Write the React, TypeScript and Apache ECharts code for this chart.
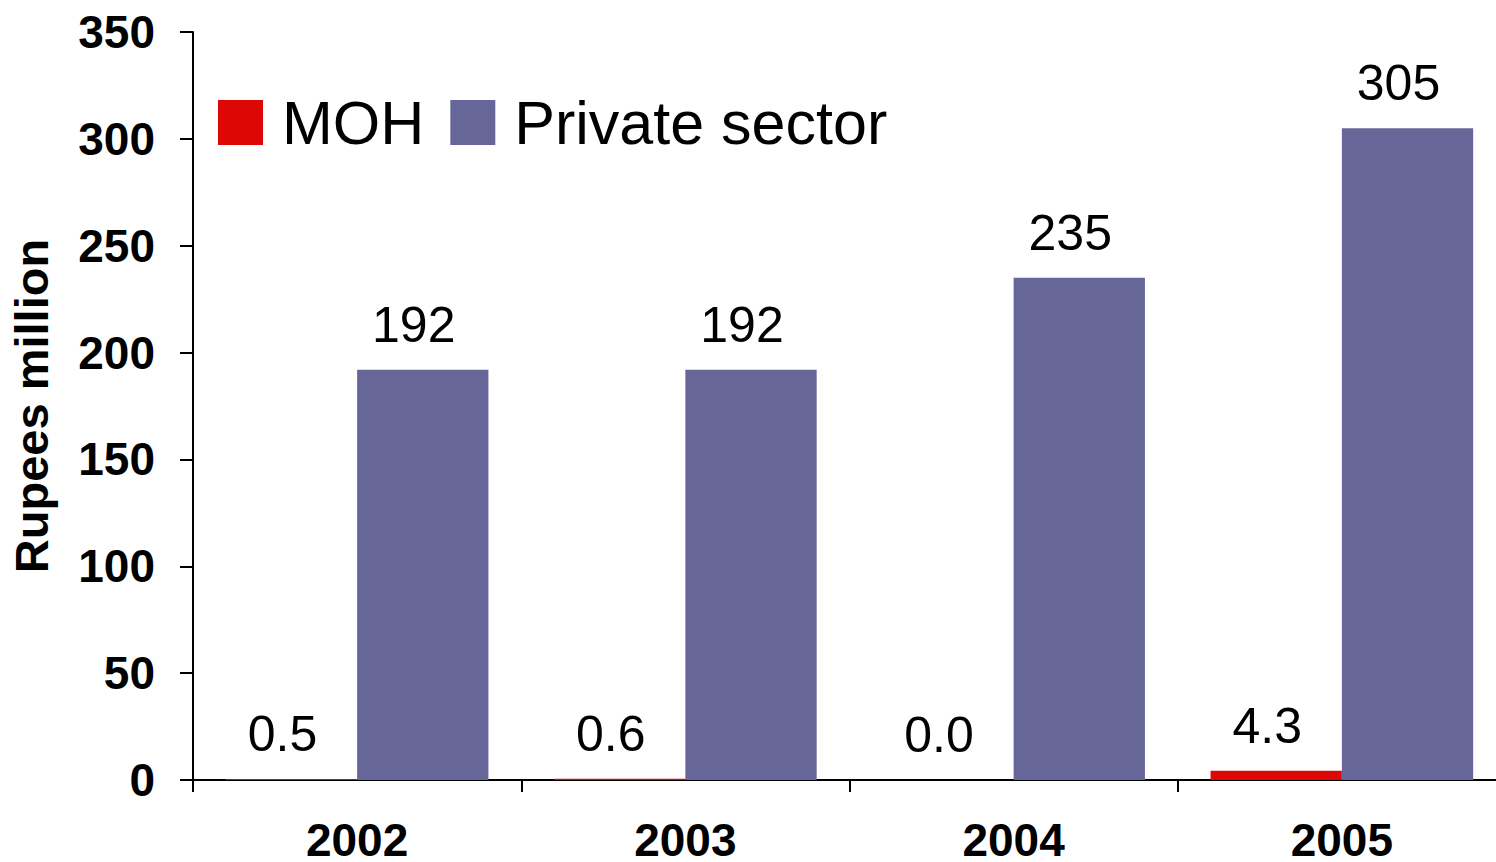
import React, { useEffect, useRef } from "react";
import * as echarts from "echarts";

const years = ["2002", "2003", "2004", "2005"];
const mohValues = [0.5, 0.6, 0.0, 4.3];
const privateValues = [192, 192, 235, 305];
const seriesNames = ["MOH", "Private sector"];
const yAxisName = "Rupees million";

const FONT = "'Liberation Sans', Arial, Helvetica, sans-serif";

export default function App() {
  const ref = useRef<HTMLDivElement>(null);
  useEffect(() => {
    if (!ref.current) return;
    const chart = echarts.init(ref.current, null, { renderer: "svg" });
    chart.setOption({
      animation: false,
      backgroundColor: "#ffffff",
      textStyle: { fontFamily: FONT },
      grid: {
        left: 193,
        top: 32,
        bottom: 82,
        right: -10,
        containLabel: false,
        outerBoundsMode: "none",
      },
      legend: {
        left: 218,
        top: 92,
        padding: 0,
        itemWidth: 45,
        itemHeight: 45,
        itemGap: 26,
        icon: "rect",
        textStyle: { fontSize: 61, color: "#000", fontFamily: FONT, padding: [0, 0, 0, 14] },
        data: seriesNames,
      },
      xAxis: {
        type: "category",
        data: years,
        axisLine: { lineStyle: { color: "#000", width: 2 } },
        axisTick: { show: true, length: 12, lineStyle: { color: "#000", width: 2 }, alignWithLabel: false },
        axisLabel: {
          fontSize: 46,
          lineHeight: 38,
          fontWeight: "bold",
          color: "#000",
          margin: 41,
          fontFamily: FONT,
        },
        splitLine: { show: false },
      },
      yAxis: {
        type: "value",
        min: 0,
        max: 350,
        interval: 50,
        name: yAxisName,
        nameLocation: "middle",
        nameGap: 138,
        nameTextStyle: { fontSize: 47, fontWeight: "bold", color: "#000", fontFamily: FONT },
        axisLine: { show: true, lineStyle: { color: "#000", width: 2 } },
        axisTick: { show: true, length: 13, lineStyle: { color: "#000", width: 2 } },
        axisLabel: { fontSize: 46, fontWeight: "bold", color: "#000", margin: 38, fontFamily: FONT },
        splitLine: { show: false },
      },
      series: [
        {
          name: seriesNames[0],
          type: "bar",
          data: mohValues,
          barWidth: "40%",
          barGap: "0%",
          itemStyle: { color: "#dd0806" },
          label: {
            show: true,
            position: "top",
            distance: 20,
            offset: [-9, 0],
            fontSize: 50,
            color: "#000",
            fontFamily: FONT,
            formatter: (p: any) => Number(p.value).toFixed(1),
          },
        },
        {
          name: seriesNames[1],
          type: "bar",
          data: privateValues,
          barWidth: "40%",
          barGap: "0%",
          itemStyle: { color: "#666699" },
          label: {
            show: true,
            position: "top",
            distance: 20,
            offset: [-9, 0],
            fontSize: 50,
            color: "#000",
            fontFamily: FONT,
            formatter: (p: any) => Number(p.value).toFixed(0),
          },
        },
      ],
    });
    return () => chart.dispose();
  }, []);
  return (
    <div
      ref={ref}
      style={{ position: "fixed", left: 0, top: 0, width: 1496, height: 862, background: "#fff" }}
    />
  );
}
